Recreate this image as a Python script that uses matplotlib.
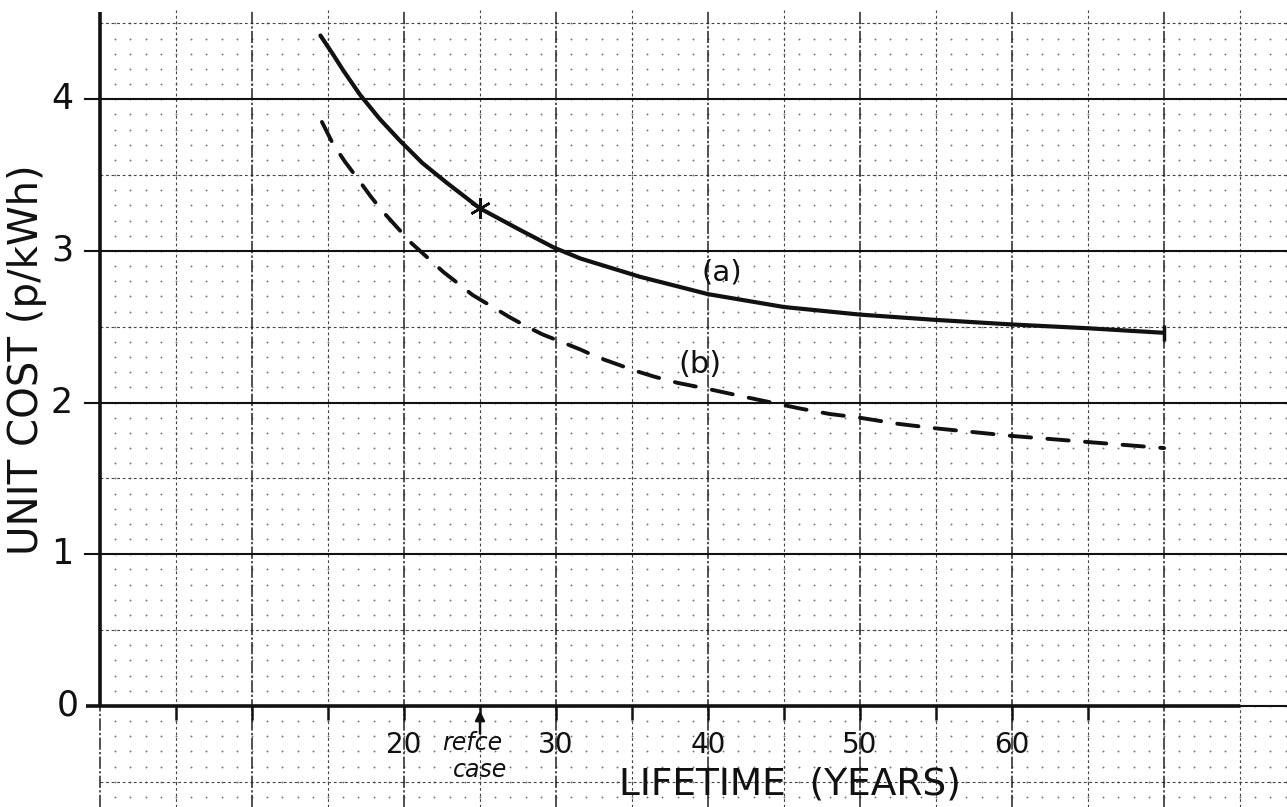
import numpy as np
import matplotlib
matplotlib.use("Agg")
import matplotlib.pyplot as plt

# Curve (a): unit cost against station lifetime (solid)
years_a = [14.5, 15.3, 16.0, 17.1, 18.4, 19.7, 21.2, 22.8, 25.0, 27.6, 29.9,
           31.6, 35.5, 40.0, 45.0, 50.0, 55.0, 60.0, 65.0, 70.0]
cost_a = [4.42, 4.30, 4.19, 4.03, 3.87, 3.73, 3.58, 3.45, 3.28, 3.14, 3.02,
          2.95, 2.83, 2.715, 2.63, 2.58, 2.545, 2.515, 2.49, 2.46]

# Curve (b): unit cost against station lifetime (dashed)
years_b = [14.6, 15.3, 16.1, 17.0, 17.8, 18.6, 19.5, 20.5, 21.5, 22.6, 23.5,
           24.5, 26.0, 27.0, 28.1, 29.1, 30.1, 31.6, 32.7, 34.1, 35.2, 36.5,
           38.0, 40.0, 42.3, 44.2, 46.1, 48.0, 50.0, 52.5, 55.0, 57.5, 60.0,
           62.5, 65.0, 67.5, 70.0]
cost_b = [3.85, 3.71, 3.59, 3.47, 3.36, 3.26, 3.16, 3.05, 2.96, 2.86, 2.79,
          2.71, 2.62, 2.56, 2.50, 2.45, 2.41, 2.35, 2.30, 2.25, 2.21, 2.17,
          2.13, 2.09, 2.04, 2.00, 1.96, 1.925, 1.90, 1.86, 1.83, 1.805, 1.78,
          1.76, 1.74, 1.72, 1.70]

# Reference case
ref_year = 25
ref_cost = 3.28

x_tick_values = [20, 30, 40, 50, 60]
x_tick_labels = ["20", "30", "40", "50", "60"]
y_tick_values = [0, 1, 2, 3, 4]
y_tick_labels = ["0", "1", "2", "3", "4"]

fig = plt.figure(figsize=(12.87, 8.07), dpi=100)
ax = fig.add_axes([0, 0, 1, 1])
X0, X1 = -6.58, 78.09
Y0, Y1 = -0.666, 4.654
ax.set_xlim(X0, X1)
ax.set_ylim(Y0, Y1)
ax.axis("off")

ink = "#111111"
font = "DejaVu Sans"

# ---- graph paper ----
line_top = 4.59
# fine 1-year x 0.1-unit dots
gx = np.arange(1, 79)
gy = np.round(np.arange(-6, 46) * 0.1, 2)
GX, GY = np.meshgrid(gx, gy)
ax.scatter(GX.ravel(), GY.ravel(), s=1.8, color="#707070", linewidths=0, zorder=1)

# half-division lines (every 5 years / 0.5 units)
for xv in np.arange(5, 79, 10):
    ax.plot([xv, xv], [Y0, line_top], color="#444444", lw=0.8,
            ls=(0, (2.5, 2.5)), zorder=2)
for yv in np.arange(-0.5, 4.6, 1.0):
    ax.plot([0, X1], [yv, yv], color="#444444", lw=0.8,
            ls=(0, (2.5, 2.5)), zorder=2)

# main divisions (every 10 years / 1 unit)
for xv in np.arange(10, 79, 10):
    ax.plot([xv, xv], [Y0, line_top], color="#222222", lw=1.1,
            ls=(0, (8, 1.5, 1.5, 1.5)), zorder=2)
for yv in [1, 2, 3, 4]:
    ax.plot([-1.0, X1], [yv, yv], color="#111111", lw=1.5, zorder=2)

# ---- axes ----
ax.plot([0, 0], [0, 4.575], color=ink, lw=2.6, zorder=3, solid_capstyle="butt")
ax.plot([0, 0], [Y0, 0], color="#222222", lw=1.1,
        ls=(0, (8, 1.5, 1.5, 1.5)), zorder=2)
ax.plot([-0.9, 75], [0, 0], color=ink, lw=2.6, zorder=3, solid_capstyle="butt")
ax.plot([75, X1], [0, 0], color=ink, lw=1.5, zorder=3)
ax.vlines(np.arange(5, 70, 5), -0.09, 0, color=ink, lw=1.8, zorder=3)

# tick labels
for v, lab in zip(y_tick_values, y_tick_labels):
    xpos = -2.1 if v == 0 else -2.5
    ax.text(xpos, v, lab, fontsize=25, ha="center", va="center",
            color=ink, family=font, zorder=5)
for v, lab in zip(x_tick_values, x_tick_labels):
    ax.text(v, -0.26, lab, fontsize=20, ha="center", va="center",
            color=ink, family=font, zorder=5)

# reference case marker below the axis
ax.annotate("", xy=(ref_year, -0.012), xytext=(ref_year, -0.2),
            arrowprops=dict(arrowstyle="-|>", color=ink, lw=1.8,
                            mutation_scale=14), zorder=5)
ax.text(ref_year - 0.5, -0.245, "refce", fontsize=17, ha="center", va="center",
        color=ink, family=font, style="italic", zorder=5)
ax.text(ref_year, -0.42, "case", fontsize=17, ha="center", va="center",
        color=ink, family=font, style="italic", zorder=5)

# axis titles
ax.text(45.4, -0.52, "LIFETIME  (YEARS)", fontsize=27, ha="center",
        va="center", color=ink, family=font, zorder=5)
ax.text(-4.8, 2.28, "UNIT COST (p/kWh)", fontsize=29, ha="center",
        va="center", rotation=90, color=ink, family=font, zorder=5)

# ---- curves ----
ax.plot(years_a, cost_a, color=ink, lw=3.0, solid_capstyle="round",
        solid_joinstyle="round", zorder=4)
ax.plot(years_a[-1], cost_a[-1], marker="|", ms=12, mew=2.5, color=ink, zorder=4)
ax.plot(years_b, cost_b, color=ink, lw=2.8, ls=(0, (5.5, 4.2)),
        dash_capstyle="round", zorder=4)
ax.plot([ref_year], [ref_cost], marker=(6, 2, 0), ms=15, mew=1.8,
        color=ink, zorder=5)

ax.text(40.9, 2.86, "(a)", fontsize=21, ha="center", va="center",
        color=ink, family=font, zorder=5)
ax.text(39.5, 2.25, "(b)", fontsize=22, ha="center", va="center",
        color=ink, family=font, zorder=5)

fig.savefig("out.png", dpi=100, facecolor="white")
